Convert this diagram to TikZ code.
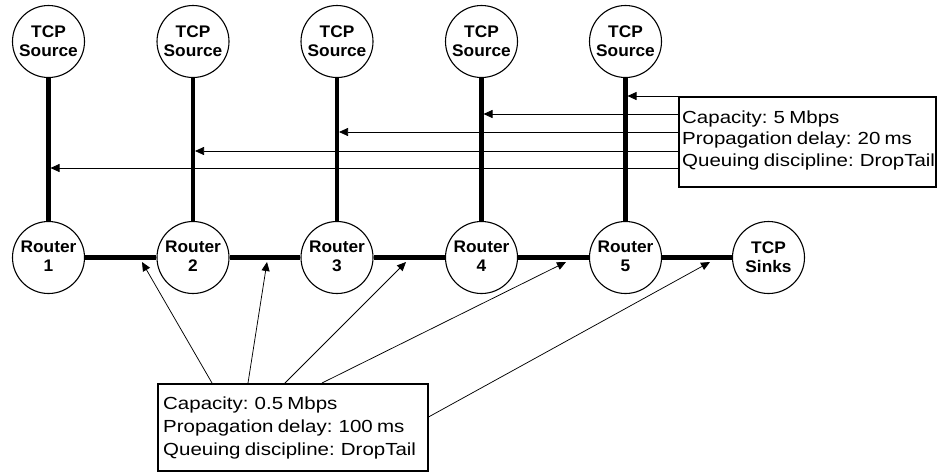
\documentclass[tikz,border=0pt]{standalone}
\usepackage{fontspec}
\setmainfont{Liberation Sans}
\newfontfamily\boxfont[FakeStretch=1.17,WordSpace=0.75]{Liberation Sans}
\newfontfamily\hubfont[FakeStretch=1.03]{Liberation Sans}
\usetikzlibrary{arrows.meta}
\begin{document}
\begin{tikzpicture}[x=1pt,y=-1pt,
  hub/.style={circle,draw,line width=1.1pt,minimum size=72pt,inner sep=0pt,align=center,
    font=\hubfont\bfseries\fontsize{16.8}{19}\selectfont},
  link/.style={line width=4.2pt},
  thin/.style={line width=0.75pt,-{Triangle[length=9pt,width=8pt]}},
  infobox/.style={draw,line width=1.5pt,inner sep=0pt,anchor=north west},
  infotext/.style={anchor=base west,inner sep=0pt,font=\boxfont\fontsize{17.5}{22}\selectfont}]
\useasboundingbox (0,0) rectangle (937,472);
% sources and routers
\foreach \i/\x in {1/48.5,2/193,3/337,4/481.5,5/625.5}{
  \node[hub] (src\i) at (\x,41.5) {TCP\\Source};
  \node[hub] (r\i) at (\x,257.5) {Router\\\i\vphantom{g}};
}
\node[hub] (sinks) at (768.5,257.5) {TCP\\Sinks};
% thick links
\foreach \i in {1,...,5}{ \draw[link] (src\i.south) -- (r\i.north); }
\draw[link] (r1.east) -- (r2.west);
\draw[link] (r2.east) -- (r3.west);
\draw[link] (r3.east) -- (r4.west);
\draw[link] (r4.east) -- (r5.west);
\draw[link] (r5.east) -- (sinks.west);
% upper info box
\node[infobox,minimum width=257pt,minimum height=90pt] (upbox) at (678,96) {};
\node[infotext] (u1) at (682,123) {Capacity: 5 Mbps};
\node[infotext] (u2) at (682,144.5) {Propagation delay: 20 ms};
\node[infotext] (u3) at (682,166) {Queuing discipline: DropTail};
\coordinate (s5) at (upbox.north west);
\coordinate (s4) at ([yshift=-18pt]upbox.north west);
\coordinate (s3) at ([yshift=-36pt]upbox.north west);
\coordinate (s2) at ([yshift=-55pt]upbox.north west);
\coordinate (s1) at ([yshift=-72pt]upbox.north west);
\foreach \i in {1,...,5}{ \draw[thin,shorten >=2pt] (s\i) -- (src\i.south |- s\i); }
% lower info box
\node[infobox,minimum width=270pt,minimum height=87pt] (lowbox) at (157,383) {};
\node[infotext] (l1) at (163,409) {Capacity: 0.5 Mbps};
\node[infotext] (l2) at (163,432) {Propagation delay: 100 ms};
\node[infotext] (l3) at (163,455) {Queuing discipline: DropTail};
\coordinate (t1) at (142,262);
\coordinate (t2) at (267,262);
\coordinate (t3) at (406,262);
\coordinate (t4) at (566,262);
\coordinate (t5) at (710,262);
\draw[thin] ([xshift=55pt]lowbox.north west) -- (t1);
\draw[thin] ([xshift=91pt]lowbox.north west) -- (t2);
\draw[thin] ([xshift=128pt]lowbox.north west) -- (t3);
\draw[thin] ([xshift=165pt]lowbox.north west) -- (t4);
\draw[thin] ([yshift=-34pt]lowbox.north east) -- (t5);
\end{tikzpicture}
\end{document}
